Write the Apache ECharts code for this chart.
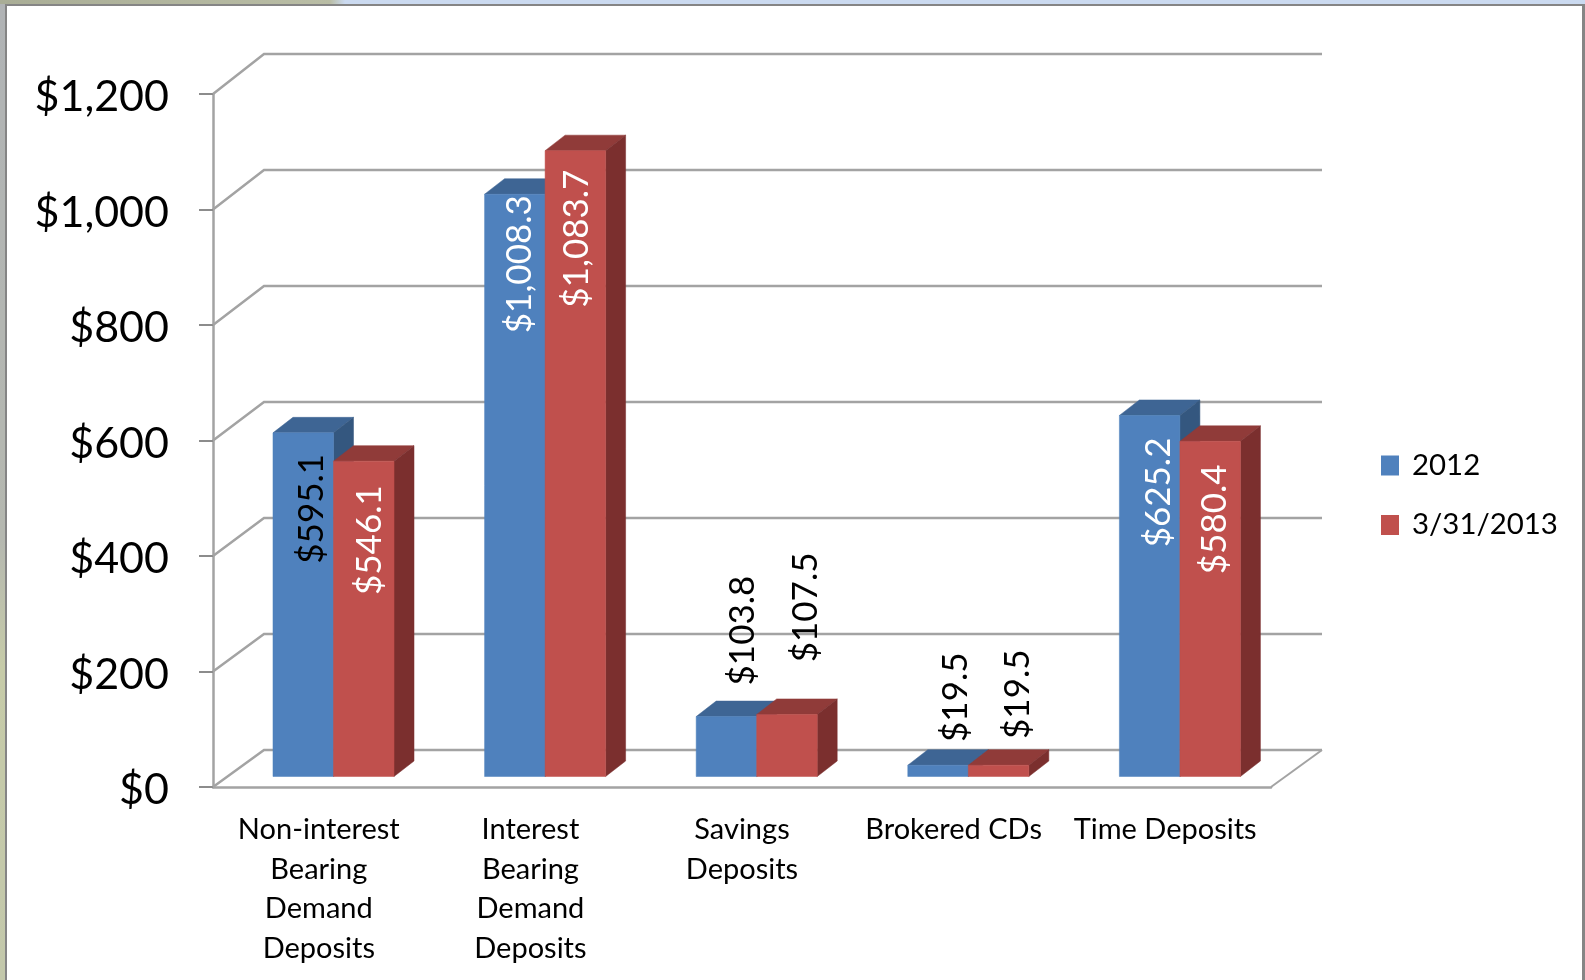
<!DOCTYPE html>
<html>
<head>
<meta charset="utf-8">
<title>Deposits</title>
<script src="https://cdn.jsdelivr.net/npm/echarts@6/dist/echarts.min.js"></script>
<style>
html, body { margin: 0; height: 100%; overflow: hidden; }
body {
    background:
        linear-gradient(to right, #a9ad96 0, #b9bda5 330px, #cbdaf0 345px) top / 100% 4px no-repeat,
        linear-gradient(to bottom, #b0b3b5 0, #b5b8b0 55%, #c6cba8 68%, #c3c8ab 100%) left / 5px 100% no-repeat,
        #fff;
}
.frame {
    position: absolute; left: 5px; top: 4px; right: 0; bottom: -4px;
    background: #fff; border: 2px solid #858585; border-right-width: 3px; box-sizing: border-box;
}
#chart { position: absolute; left: 0; top: 0; width: 1585px; height: 980px; }
</style>
</head>
<body>
<div class="frame"></div>
<div id="chart"></div>
<script>
const categories = [
    'Non-interest\nBearing\nDemand\nDeposits',
    'Interest\nBearing\nDemand\nDeposits',
    'Savings\nDeposits',
    'Brokered CDs',
    'Time Deposits'
];
const values2012 = [595.1, 1008.3, 103.8, 19.5, 625.2];
const values2013 = [546.1, 1083.7, 107.5, 19.5, 580.4];
const yTicks = [0, 200, 400, 600, 800, 1000, 1200];

// hand placed labels from the picture: [dx, dy] of label centre from the bar's top centre
const labelNudge2012 = [[8, 76], [5, 70], [16, -86], [18, -68], [9, 77]];
const labelNudge2013 = [[6, 79], [1, 88], [19, -107], [19, -71], [5, 78]];
const labelColor2012 = ['#000', '#fff', '#000', '#000', '#fff'];
const labelColor2013 = ['#fff', '#fff', '#000', '#000', '#fff'];

const FONT = 'Lato, sans-serif';
const WALL_DX = 51;
const WALL_DY = -37;
const WALL_STRETCH = -3 / 1200; // back wall is a touch taller than the front plane
const BAR_SHIFT_X = 14.7;
const BAR_SHIFT_Y = -10.5;
const DEPTH_X = 20;
const DEPTH_Y = -15.5;

const chart = echarts.init(document.getElementById('chart'), null, { renderer: 'canvas' });

const poly = (points, fill) => ({
    type: 'polygon',
    shape: { points },
    style: { fill, stroke: fill, lineWidth: 0.5 }
});

const renderWall = (params, api) => {
    const cs = params.coordSys;
    const v = api.value(0);
    const y = api.coord([0, v])[1];
    const back = y + WALL_DY + v * WALL_STRETCH;
    const children = [{
        type: 'polyline',
        shape: { points: [[cs.x, y], [cs.x + WALL_DX, back], [cs.x + cs.width + WALL_DX, back]] },
        style: { stroke: '#a3a3a3', lineWidth: 2.5, fill: 'none' }
    }];
    if (v === 0) {
        children.push({
            type: 'line',
            shape: { x1: cs.x + cs.width, y1: y, x2: cs.x + cs.width + WALL_DX, y2: back },
            style: { stroke: '#a3a3a3', lineWidth: 2 }
        });
    }
    return { type: 'group', children };
};

const barRenderer = (seriesIndex, colors, nudges, labelColors) => (params, api) => {
    const cat = api.value(0);
    const val = api.value(1);
    const top = api.coord([cat, val]);
    const base = api.coord([cat, 0]);
    const band = api.size([1, 0])[0];
    const w = band * 0.286;
    const x0 = top[0] + BAR_SHIFT_X - w + seriesIndex * w;
    const x1 = x0 + w;
    const yt = top[1] + BAR_SHIFT_Y;
    const yb = base[1] + BAR_SHIFT_Y;
    const n = nudges[params.dataIndex];
    return {
        type: 'group',
        children: [
            poly([[x0, yt], [x0 + DEPTH_X, yt + DEPTH_Y], [x1 + DEPTH_X, yt + DEPTH_Y], [x1, yt]], colors.top),
            poly([[x1, yt], [x1 + DEPTH_X, yt + DEPTH_Y], [x1 + DEPTH_X, yb + DEPTH_Y], [x1, yb]], colors.side),
            poly([[x0, yt], [x1, yt], [x1, yb], [x0, yb]], colors.front),
            {
                type: 'text',
                x: (x0 + x1) / 2 + n[0],
                y: yt + n[1],
                rotation: Math.PI / 2,
                style: {
                    text: '$' + val.toLocaleString('en-US', { minimumFractionDigits: 1 }),
                    fill: labelColors[params.dataIndex],
                    font: '35px ' + FONT,
                    align: 'center',
                    verticalAlign: 'middle'
                }
            }
        ]
    };
};

const blue = { front: '#4f81bd', top: '#3e6594', side: '#34577f' };
const red = { front: '#c0504d', top: '#903b39', side: '#7b2f2e' };

chart.setOption({
    animation: false,
    backgroundColor: 'transparent',
    grid: { left: 213, right: 314, top: 94, bottom: 193 },
    legend: {
        data: ['2012', '3/31/2013'],
        orient: 'vertical',
        left: 1376,
        top: 446,
        icon: 'rect',
        itemWidth: 18,
        itemHeight: 20,
        itemGap: 30.5,
        selectedMode: false,
        textStyle: { color: '#000', fontFamily: FONT, fontSize: 29.4, padding: [0, 0, 0, 8] }
    },
    xAxis: {
        type: 'category',
        data: categories,
        axisLine: { lineStyle: { color: '#a3a3a3', width: 2.5 } },
        axisTick: { length: 9, lineStyle: { color: '#8c8c8c', width: 2 } },
        axisLabel: {
            color: '#000',
            fontFamily: FONT,
            fontSize: 29,
            lineHeight: 39.5,
            margin: 23,
            interval: 0
        }
    },
    yAxis: {
        type: 'value',
        min: 0,
        max: 1200,
        interval: 200,
        splitLine: { show: false },
        axisLine: { show: true, lineStyle: { color: '#a3a3a3', width: 2.5 } },
        axisTick: { show: true, length: 14, lineStyle: { color: '#8c8c8c', width: 2 } },
        axisLabel: {
            color: '#000',
            fontFamily: FONT,
            fontSize: 43,
            margin: 44,
            verticalAlign: 'top',
            lineHeight: 7, // pushes the text about 3px below the tick, as in the picture
            formatter: v => '$' + v.toLocaleString('en-US')
        }
    },
    series: [
        {
            type: 'custom',
            name: 'walls',
            silent: true,
            clip: false,
            data: yTicks.map(v => [v]),
            encode: { y: 0 },
            renderItem: renderWall
        },
        {
            type: 'custom',
            name: '2012',
            silent: true,
            clip: false,
            itemStyle: { color: blue.front },
            data: values2012.map((v, i) => [i, v]),
            encode: { x: 0, y: 1 },
            renderItem: barRenderer(0, blue, labelNudge2012, labelColor2012)
        },
        {
            type: 'custom',
            name: '3/31/2013',
            silent: true,
            clip: false,
            itemStyle: { color: red.front },
            data: values2013.map((v, i) => [i, v]),
            encode: { x: 0, y: 1 },
            renderItem: barRenderer(1, red, labelNudge2013, labelColor2013)
        }
    ]
});
</script>
</body>
</html>
